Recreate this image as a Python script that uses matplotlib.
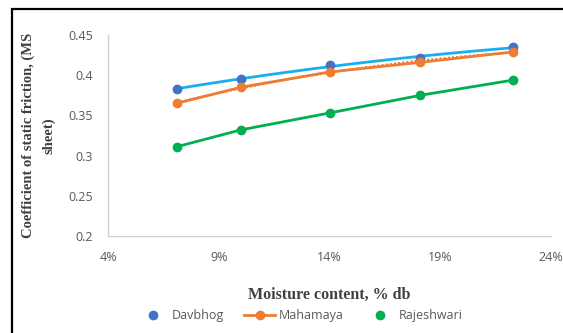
import numpy as np
import matplotlib
matplotlib.use("Agg")
import matplotlib.pyplot as plt
from matplotlib.patches import Rectangle
from matplotlib.lines import Line2D
from matplotlib.ticker import FuncFormatter

moisture = [0.071, 0.100, 0.140, 0.181, 0.223]
davbhog = [0.383, 0.395, 0.413, 0.421, 0.435]
mahamaya = [0.365, 0.385, 0.404, 0.416, 0.429]
rajeshwari = [0.311, 0.332, 0.353, 0.375, 0.394]
xticks = [0.04, 0.09, 0.14, 0.19, 0.24]
yticks = [0.2, 0.25, 0.3, 0.35, 0.4, 0.45]

fig = plt.figure(figsize=(5.63, 3.33), dpi=100)
fig.patches.append(Rectangle((12/563, -0.05), 1.2, 1.05 - 9/333,
                             transform=fig.transFigure, fill=False,
                             edgecolor="black", linewidth=1.6))
ax = fig.add_axes([108/563, 1-236/333, (551-108)/563, (236-35)/333])

x = np.array(moisture)
xs = np.linspace(x.min(), x.max(), 100)
# trend lines
pd_ = np.polyfit(x, davbhog, 2)
ax.plot(xs, np.polyval(pd_, xs), color="#1AAEEF", lw=2, zorder=2)
pm = np.polyfit(x, mahamaya, 2)
ax.plot(xs, np.polyval(pm, xs), color="#ED7D31", lw=1.5, ls=(0, (1, 1)), zorder=2)
ax.plot(x, mahamaya, color="#ED7D31", lw=2, zorder=3)
ax.plot(x, rajeshwari, color="#00B050", lw=2, zorder=3)

ax.plot(x, davbhog, 'o', color="#4472C4", ms=6, zorder=4)
ax.plot(x, mahamaya, 'o', color="#ED7D31", ms=6, zorder=5)
ax.plot(x, rajeshwari, 'o', color="#00B050", ms=6, zorder=5)

ax.set_xlim(0.04, 0.24)
ax.set_ylim(0.2, 0.45)
ax.set_xticks(xticks)
ax.set_yticks(yticks)
ax.xaxis.set_major_formatter(FuncFormatter(lambda v, p: f"{round(v*100)}%"))
ax.yaxis.set_major_formatter(FuncFormatter(lambda v, p: f"{v:g}"))
for s in ["top", "right"]:
    ax.spines[s].set_visible(False)
for s in ["left", "bottom"]:
    ax.spines[s].set_color("#D0D0D0")
    ax.spines[s].set_linewidth(1)
ax.tick_params(length=0, labelsize=9, labelcolor="#595959")
ax.tick_params(axis="x", pad=11)
ax.tick_params(axis="y", pad=11)
for t in ax.get_xticklabels() + ax.get_yticklabels():
    t.set_fontfamily("Open Sans")

ax.set_xlabel("Moisture content, % db", fontfamily="Liberation Serif",
              fontweight="bold", fontsize=11.5, color="#404040", labelpad=16)
ax.set_ylabel("Coefficient of static friction, (MS\nsheet)", fontfamily="Liberation Serif",
              fontweight="bold", fontsize=10.5, color="#404040", labelpad=9,
              linespacing=1.7)

handles = [
    Line2D([], [], color="#4472C4", marker='o', ls='none', ms=6),
    Line2D([], [], color="#ED7D31", marker='o', lw=2, ms=6),
    Line2D([], [], color="#00B050", marker='o', ls='none', ms=6),
]
leg = fig.legend(handles, ["Davbhog", "Mahamaya", "Rajeshwari"], loc="center",
                 bbox_to_anchor=(300/563, 1-316/333), ncol=3, frameon=False,
                 prop={"family": "Open Sans", "size": 9}, handlelength=2.5,
                 columnspacing=1.6, handletextpad=0.3)
for t in leg.get_texts():
    t.set_color("#595959")

fig.savefig("out.png", dpi=100)
